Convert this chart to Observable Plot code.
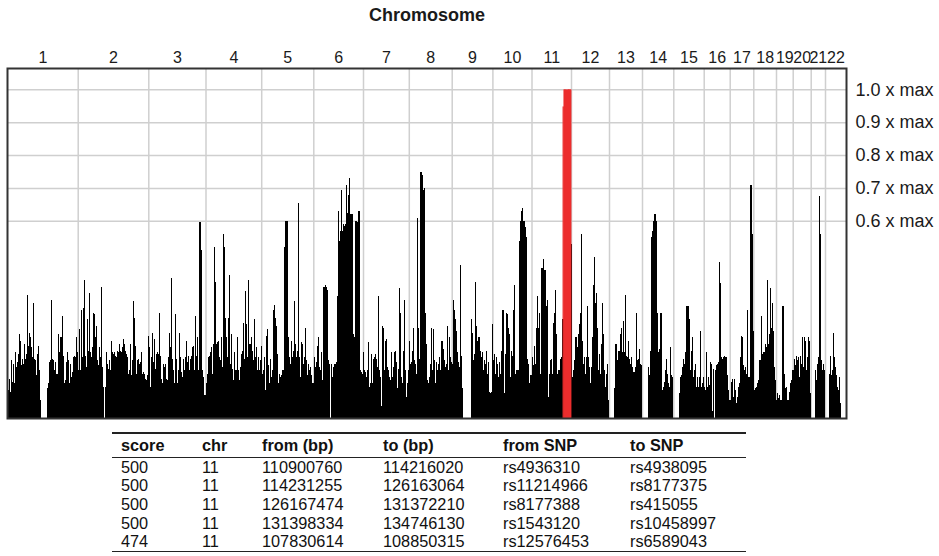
<!DOCTYPE html>
<html>
<head>
<meta charset="utf-8">
<script src="https://cdn.jsdelivr.net/npm/d3@7"></script>
<script src="https://cdn.jsdelivr.net/npm/@observablehq/plot@0.6"></script>
<style>
  body { margin: 0; background: #fff; font-family: "Liberation Sans", Arial, Helvetica, sans-serif; }
  #wrap { position: relative; width: 939px; height: 556px; overflow: hidden; }
  #chart { position: absolute; left: 0; top: 0; }
  #tbl { position: absolute; left: 112px; top: 432px; width: 634px; border-collapse: collapse; table-layout: fixed;
         font-size: 16.3px; color: #111; border-top: 2px solid #222; border-bottom: 1.5px solid #222; }
  #tbl th { font-weight: bold; text-align: left; padding: 0; height: 23px; border-bottom: 1px solid #222; }
  #tbl td { text-align: left; padding: 0; height: 18.6px; line-height: 17px; }
  #tbl th:first-child, #tbl td:first-child { padding-left: 9px; }
</style>
</head>
<body>
<div id="wrap"><div id="chart"></div><table id="tbl"></table></div>
<script>
// ---- chromosome names and relative spans along the genome axis ----
const chrNames = ["1","2","3","4","5","6","7","8","9","10","11","12","13","14","15","16","17","18","19","20","21","22"];
const chrSpan = [70.7,70.6,57.2,55.7,52.1,49.7,45.8,42.9,40.7,39.1,39.5,38,33,31.3,30.4,26,23.6,22.7,16.7,18,14.3,21];

// ---- scores (fraction of max), evenly spaced along each chromosome ----
const s1 = [0.145,0.085,0.12,0.08,0.175,0.11,0.165,0.105,0.2,0.155,0.17,0.195,0.255,0.235,0.16,0.18,0.165,0.225,0.18,0.195,0.375,0.22,0.26,0.245,0.215,0.185,0.35,0.18,0.175,0.13,0.195,0.22,0.145,0.055,0,0,0,0,0,0,0.09,0.105,0.17,0.175,0.36,0.18,0.175,0.145,0.17,0.135,0.255,0.2,0.245,0.245,0.31,0.19,0.105,0.115,0.17,0.2,0.175,0.105,0.165,0.125,0.14,0.185,0.19,0.185,0.245,0.2];
const s2 = [0.145,0.27,0.145,0.33,0.185,0.335,0.42,0.19,0.155,0.3,0.205,0.38,0.2,0.185,0.215,0.32,0.315,0.245,0.28,0.175,0.16,0.215,0.185,0.4,0.155,0.095,0,0.095,0.2,0.165,0.15,0.175,0.145,0.235,0.2,0.215,0.195,0.2,0.19,0.185,0.205,0.2,0.225,0.205,0.2,0.215,0.24,0.225,0.205,0.195,0.185,0.135,0.145,0.225,0.13,0.175,0.355,0.305,0.22,0.135,0.175,0.18,0.165,0.17,0.2,0.135,0.14,0.135,0.12,0.115,0.13];
const s3 = [0.25,0.215,0.095,0.185,0.26,0.17,0.24,0.15,0.195,0.2,0.195,0.32,0.19,0.12,0.105,0.165,0.155,0.165,0.12,0.115,0.185,0.26,0.215,0.425,0.18,0.145,0.105,0.315,0.18,0.105,0.145,0.26,0.185,0.14,0.125,0.18,0.145,0.185,0.235,0.17,0.19,0.145,0.18,0.19,0.215,0.22,0.145,0.31,0.19,0.245,0.145,0.597,0.597,0.51,0.145,0.125,0.07];
const s4 = [0.105,0.135,0.185,0.19,0.2,0.215,0.135,0.225,0.52,0.415,0.225,0.23,0.235,0.185,0.175,0.245,0.155,0.56,0.52,0.305,0.245,0.185,0.305,0.435,0.165,0.255,0.15,0.115,0.2,0.145,0.145,0.245,0.145,0.115,0.155,0.195,0.205,0.29,0.18,0.385,0.285,0.185,0.42,0.225,0.225,0.245,0.205,0.175,0.3,0.185,0.215,0.145,0.185,0.145,0.175];
const s5 = [0.22,0.135,0.145,0.185,0.085,0.25,0.27,0.16,0.105,0.18,0.125,0.145,0.33,0.345,0.305,0.28,0.195,0.105,0.135,0.125,0.13,0.145,0.145,0.52,0.6,0.6,0.6,0.245,0.185,0.165,0.235,0.185,0.205,0.355,0.225,0.185,0.205,0.655,0.185,0.125,0.23,0.225,0.165,0.185,0.275,0.175,0.13,0.165,0.145,0.155,0.13,0.105];
const s6 = [0.105,0.185,0.155,0.17,0.22,0.245,0.155,0.145,0.2,0.115,0.4,0.4,0.405,0.4,0.39,0.175,0.165,0,0.165,0.125,0.155,0.165,0.165,0.17,0.37,0.63,0.54,0.57,0.695,0.57,0.59,0.585,0.59,0.71,0.625,0.68,0.73,0.62,0.62,0.62,0.255,0.245,0.6,0.6,0.595,0.63,0.63,0.145,0.14,0.135];
const s7 = [0.2,0.145,0.14,0.125,0.145,0.23,0.095,0.105,0.195,0.105,0.18,0.185,0.195,0.18,0.155,0.37,0.145,0.125,0.035,0.28,0.275,0.145,0.235,0.24,0.155,0.145,0.125,0.115,0.2,0.125,0.155,0.2,0.205,0.17,0.09,0.15,0.395,0.32,0.125,0.105,0.205,0.36,0.145,0.065,0.105,0.145];
const s8 = [0.235,0.165,0.17,0.205,0.275,0.175,0.165,0.135,0.61,0.275,0.18,0.75,0.75,0.74,0.695,0.7,0.32,0.225,0.115,0.105,0.125,0.165,0.275,0.145,0.27,0.175,0.105,0.17,0.145,0.165,0.185,0.145,0.235,0.21,0.175,0.155,0.165,0.28,0.145,0.245,0.185,0.17];
const s9 = [0.165,0.36,0.33,0.3,0.265,0.2,0.17,0.155,0.465,0.19,0.09,0,0,0,0,0,0,0,0,0.3,0.26,0.175,0.195,0.415,0.28,0.235,0.245,0.23,0.245,0.205,0.185,0.2,0.145,0.175,0.165,0.205,0.135,0.17,0.08,0.075,0.08];
const s10 = [0.285,0.175,0.195,0.135,0.185,0.165,0.125,0.17,0.135,0.205,0.33,0.33,0.075,0.195,0.32,0.315,0.275,0.255,0.125,0.205,0.19,0.33,0.405,0.135,0.145,0.145,0.145,0.54,0.6,0.63,0.64,0.6,0.6,0.58,0.55,0.18,0.165,0.105,0.13];
const s11 = [0.175,0.185,0.16,0.22,0.165,0.275,0.37,0.275,0.32,0.135,0.455,0.455,0.485,0.45,0.45,0.34,0.36,0.065,0.135,0.175,0.18,0.135,0.29,0.32,0.39,0.255,0.135,0.145,0.145,0.18,0.185,0.3,0.3,0.3,0.3,0.3,0.3,0.3,0.3,0.3];
const s12 = [0.53,0.125,0.145,0.175,0.245,0.245,0.215,0.255,0.285,0.32,0.56,0.235,0.165,0.185,0.135,0.185,0.34,0.185,0.155,0.105,0.155,0.245,0.405,0.49,0.35,0.38,0.275,0.145,0.195,0.135,0.225,0.35,0.255,0.145,0.095,0.135,0.165,0.055];
const s13 = [0,0,0,0,0,0.09,0.225,0.225,0.175,0.205,0.205,0.255,0.275,0.2,0.295,0.2,0.375,0.19,0.185,0.235,0.18,0.165,0.185,0.155,0.14,0.14,0.155,0.32,0.175,0.18,0.21,0.165,0.16];
const s14 = [0,0,0,0,0,0,0.155,0.13,0.205,0.55,0.57,0.6,0.62,0.62,0.6,0.32,0.2,0.21,0.32,0.32,0.085,0.095,0.11,0.145,0.18,0.135,0.105,0.095,0.215,0.13,0.125];
const s15 = [0,0,0,0,0,0,0.075,0.125,0.13,0.155,0.18,0.165,0.2,0.34,0.34,0.3,0.145,0.205,0.245,0.125,0.145,0.165,0.095,0.125,0.095,0.125,0.265,0.095,0.105,0.125];
const s16 = [0.095,0.085,0.2,0.095,0.125,0.1,0.17,0.165,0.02,0.15,0,0.145,0.16,0.165,0.17,0.475,0.41,0.185,0.18,0.185,0.19,0.185,0.185,0.13,0.085,0.055];
const s17 = [0.055,0.11,0.12,0.065,0.12,0.085,0.045,0.065,0.095,0.105,0.185,0.25,0.245,0.16,0.145,0.155,0.135,0.33,0.125,0.125,0.71,0.71,0.56];
const s18 = [0.265,0.085,0.09,0.095,0.105,0.115,0.175,0.31,0.195,0.2,0.2,0.225,0.215,0.42,0.225,0.255,0.395,0.275,0.35,0.265,0.155,0.115];
const s19 = [0.055,0.075,0.06,0.07,0.055,0.055,0.34,0.34,0.135,0.09,0.095,0.055,0.08,0.105,0.115,0.145];
const s20 = [0.145,0.18,0.16,0.19,0.175,0.185,0.125,0.19,0.165,0.245,0.155,0.245,0.235,0.145,0.185,0.245,0.235,0.075];
const s21 = [0,0,0,0,0.145,0.115,0.165,0.185,0.675,0.56,0.175,0.145,0.165,0.145];
const s22 = [0,0,0,0,0.135,0.19,0.13,0.145,0.26,0.185,0.155,0.13,0.095,0.085,0.125,0.045,0,0,0,0,0];

// ---- top-scoring regions (table) ----
const tblScore = [500, 500, 500, 500, 474];
const tblChr = ["11", "11", "11", "11", "11"];
const tblFrom = [110900760, 114231255, 126167474, 131398334, 107830614];
const tblTo = [114216020, 126163064, 131372210, 134746130, 108850315];
const tblFromSNP = ["rs4936310", "rs11214966", "rs8177388", "rs1543120", "rs12576453"];
const tblToSNP = ["rs4938095", "rs8177375", "rs415055", "rs10458997", "rs6589043"];
const chr11LengthBp = 135006516;

const yTicks = [0.6, 0.7, 0.8, 0.9, 1.0];

// ---- build plot data ----
const scores = [s1,s2,s3,s4,s5,s6,s7,s8,s9,s10,s11,s12,s13,s14,s15,s16,s17,s18,s19,s20,s21,s22];
const offsets = d3.cumsum([0, ...chrSpan]);
const total = offsets[offsets.length - 1];
const bins = [];
scores.forEach((arr, c) => {
  const n = arr.length, w = chrSpan[c] / n;
  arr.forEach((v, j) => bins.push({x1: offsets[c] + j * w, x2: offsets[c] + (j + 1) * w, v}));
});
const centers = chrNames.map((_, i) => offsets[i] + chrSpan[i] / 2);
const nameOf = new Map(centers.map((c, i) => [c, chrNames[i]]));
const boundaries = offsets.slice(1, -1);

const regions = tblScore.map((s, i) => {
  const c = chrNames.indexOf(tblChr[i]);
  return {
    x1: offsets[c] + chrSpan[c] * tblFrom[i] / chr11LengthBp,
    x2: offsets[c] + chrSpan[c] * tblTo[i] / chr11LengthBp,
    v: s / 500
  };
}).sort((a, b) => a.v - b.v);

const plot = Plot.plot({
  width: 939,
  height: 425,
  marginLeft: 7,
  marginRight: 93,
  marginTop: 68,
  marginBottom: 7,
  style: {fontFamily: "Liberation Sans, Arial, Helvetica, sans-serif", fontSize: "16px", color: "#1a1a1a", background: "#fff"},
  x: {domain: [0, total], axis: null},
  y: {domain: [0, 1.065], axis: null},
  marks: [
    Plot.ruleX(boundaries, {stroke: "#cfcfcf", strokeWidth: 1.5}),
    Plot.ruleY(yTicks, {stroke: "#cfcfcf", strokeWidth: 1.5}),
    Plot.rect(bins, {x1: "x1", x2: "x2", y1: () => 0, y2: "v", fill: "#000", shapeRendering: "crispEdges"}),
    Plot.rect(regions, {x1: "x1", x2: "x2", y1: () => 0, y2: "v", fill: "#ec2d2d", insetLeft: -0.5, insetRight: -0.5}),
    Plot.axisX(centers, {anchor: "top", tickSize: 0, tickPadding: 6, tickFormat: d => nameOf.get(d), fontSize: 16, label: null}),
    Plot.axisY(yTicks, {anchor: "right", tickSize: 0, tickPadding: 9, tickFormat: d => d.toFixed(1) + " x max", fontSize: 18, label: null}),
    Plot.text(["Chromosome"], {frameAnchor: "top", dy: -53, fontWeight: "bold", fontSize: 18, lineAnchor: "middle"}),
    Plot.frame({stroke: "#333", strokeWidth: 2})
  ]
});
document.getElementById("chart").appendChild(plot);

// ---- table ----
const tbl = document.getElementById("tbl");
const colW = [90, 60, 121, 120, 127, 116];
const cg = document.createElement("colgroup");
colW.forEach(w => { const c = document.createElement("col"); c.style.width = w + "px"; cg.appendChild(c); });
tbl.appendChild(cg);
const head = ["score", "chr", "from (bp)", "to (bp)", "from SNP", "to SNP"];
const thead = tbl.createTHead().insertRow();
head.forEach(h => { const th = document.createElement("th"); th.textContent = h; thead.appendChild(th); });
const tb = tbl.createTBody();
tblScore.forEach((s, i) => {
  const r = tb.insertRow();
  [s, tblChr[i], tblFrom[i], tblTo[i], tblFromSNP[i], tblToSNP[i]].forEach(v => { r.insertCell().textContent = v; });
});
</script>
</body>
</html>
